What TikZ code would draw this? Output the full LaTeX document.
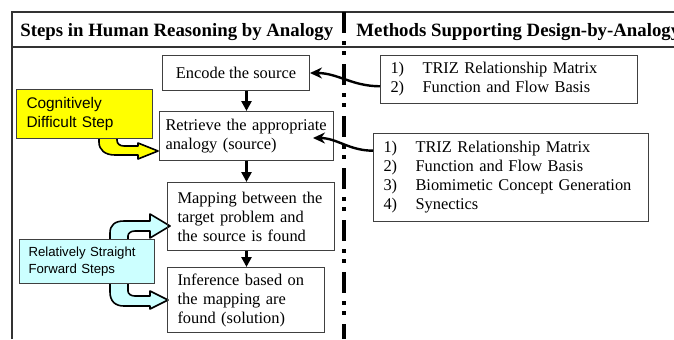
\documentclass[tikz,border=0pt]{standalone}
\usepackage{fontspec}
\setmainfont{Liberation Serif}
\setsansfont{Liberation Sans}
\usepackage{tikz}
\usetikzlibrary{arrows.meta}

\definecolor{hlyellow}{HTML}{FFFF00}
\definecolor{hlcyan}{HTML}{CCFFFF}
\newcommand{\lnum}[1]{\makebox[16pt][l]{#1}}

\begin{document}
\begin{tikzpicture}[x=0.5pt,y=-0.5pt,
  frame/.style={line width=0.7pt,black!80},
  divider/.style={line width=2pt,dash pattern=on 10.5pt off 4pt on 2pt off 3pt on 2pt off 4.5pt},
  headtext/.style={anchor=base west,inner sep=0pt,font=\bfseries\fontsize{9.4}{11}\selectfont},
  stepbox/.style={draw=black!75,line width=0.5pt,anchor=north west,align=left,inner ysep=0pt,font=\fontsize{8.2}{9.5}\selectfont},
  notebox/.style={draw=black!75,line width=0.5pt,anchor=north west,align=left,inner ysep=0pt},
  barrow/.style={draw=black,line width=0.8pt,line join=round},
  flow/.style={line width=1.5pt,-{Triangle[length=5pt,width=5pt]}},
  link/.style={line width=1.2pt,-{Stealth[length=6pt,width=5.5pt]}}]
\useasboundingbox (0,0) rectangle (674,339);
\clip (0,0) rectangle (674,339);
\draw[frame] (12,339) -- (12,12) -- (674,12);
\draw[frame] (12,47) -- (674,47);
\draw[divider] (344,12) -- (344,339);
\node[headtext] (lhead) at (20,36) {Steps in Human Reasoning by Analogy};
\node[headtext] (rhead) at (356,36) {Methods Supporting Design-by-Analogy};
% block arrows
\draw[barrow,fill=hlyellow] (99,138) -- (99,142) .. controls (99,150) and (105,155) .. (115,155) -- (138,155) -- (138,159) -- (158,151) -- (138,143) -- (138,146) -- (124,146) .. controls (120,146) and (117,144) .. (117,140) -- (117,138);
\draw[barrow,fill=hlcyan] (110,239) -- (110,233) .. controls (110,225) and (115,221) .. (124,221) -- (150,221) -- (150,214) -- (170,226) -- (150,238) -- (150,231) -- (135,231) .. controls (131,231) and (128,233) .. (128,236) -- (128,239);
\draw[barrow,fill=hlcyan] (110,283) -- (110,292) .. controls (110,301) and (115,306) .. (124,306) -- (150,306) -- (150,309) -- (168,300) -- (150,291) -- (150,296) -- (135,296) .. controls (131,296) and (128,294) .. (128,291) -- (128,283);
\node[stepbox,minimum width=73.5pt,minimum height=17.5pt] (enc) at (162,55) {Encode the source};
\node[stepbox,text width=81pt,inner xsep=3pt,minimum height=24.5pt] (ret) at (159,111) {Retrieve the appropriate\\analogy (source)};
\node[stepbox,text width=73.5pt,inner xsep=5pt,minimum height=34pt] (map) at (167,182) {Mapping between the\\target problem and\\the source is found};
\node[stepbox,text width=68.5pt,inner xsep=5pt,minimum height=32.5pt] (inf) at (167,267) {Inference based on\\the mapping are\\found (solution)};
\node[notebox,fill=hlyellow,text width=58pt,inner xsep=5pt,minimum height=24.5pt,font=\sffamily\fontsize{7.7}{9.5}\selectfont] (cog) at (16,89) {Cognitively\\Difficult Step};
\node[notebox,fill=hlcyan,text width=58.5pt,inner xsep=4.5pt,minimum height=22pt,font=\sffamily\fontsize{6.6}{8.5}\selectfont] (rel) at (19,239) {Relatively Straight\\Forward Steps};
\node[stepbox,text width=118.5pt,inner xsep=5pt,minimum height=24pt] (meth1) at (380,55) {\lnum{1)}TRIZ Relationship Matrix\\\lnum{2)}Function and Flow Basis};
\node[stepbox,text width=127.5pt,inner xsep=5pt,minimum height=44pt] (meth2) at (373,133) {\lnum{1)}TRIZ Relationship Matrix\\\lnum{2)}Function and Flow Basis\\\lnum{3)}Biomimetic Concept Generation\\\lnum{4)}Synectics};
\draw[flow] (enc.south -| ret.north) -- (ret.north);
\draw[flow] (ret.south) -- (ret.south |- map.north);
\draw[flow] (map.south -| ret.south) -- (inf.north -| ret.south);
\coordinate (rettip) at (313,138);
\draw[link] (meth1.183) to[out=180,in=0] (enc.east);
\draw[link] (meth2.169) to[out=180,in=0] (rettip);
\end{tikzpicture}
\end{document}
